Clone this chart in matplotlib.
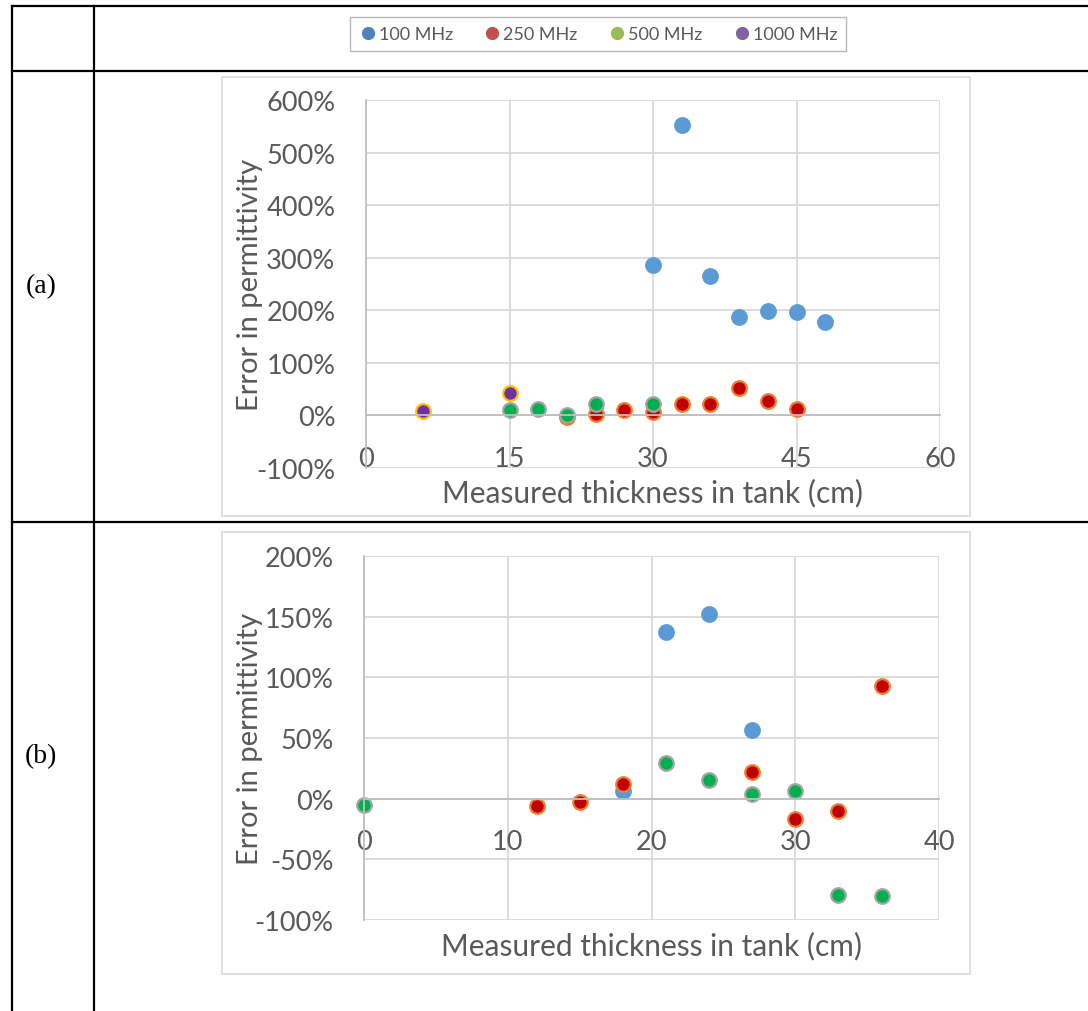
import matplotlib
matplotlib.use("Agg")
import matplotlib.pyplot as plt
from matplotlib.lines import Line2D
from matplotlib.patches import Rectangle
from matplotlib.ticker import FuncFormatter, MultipleLocator

plt.rcParams['font.family'] = ['Lato', 'DejaVu Sans']
plt.rcParams['axes.unicode_minus'] = False

W, H = 1088, 1012

series_names = ["100 MHz", "250 MHz", "500 MHz", "1000 MHz"]
legend_colors = ["#4F81BD", "#C0504D", "#9BBB59", "#8064A2"]
face_colors = ["#5B9BD5", "#C00000", "#00B050", "#7030A0"]
edge_colors = ["#5B9BD5", "#ED7D31", "#A5A5A5", "#FFC000"]

# panel (a): thickness (cm), error (%)
a_x = {
    "100 MHz": [30, 33, 36, 39, 42, 45, 48],
    "250 MHz": [21, 24, 27, 30, 33, 36, 39, 42, 45],
    "500 MHz": [15, 18, 21, 24, 30],
    "1000 MHz": [6, 15],
}
a_y = {
    "100 MHz": [287, 553, 265, 188, 198, 196, 177],
    "250 MHz": [-3, 2, 10, 6, 22, 22, 53, 28, 12],
    "500 MHz": [10, 13, 1, 21, 21],
    "1000 MHz": [8, 42],
}

# panel (b)
b_x = {
    "100 MHz": [18, 21, 24, 27],
    "250 MHz": [12, 15, 18, 27, 30, 33, 36],
    "500 MHz": [0, 21, 24, 27, 30, 33, 36],
    "1000 MHz": [],
}
b_y = {
    "100 MHz": [6, 137, 152, 57],
    "250 MHz": [-6, -2.5, 12, 22, -17, -10.5, 93],
    "500 MHz": [-5.5, 29, 15, 4, 6, -79, -80],
    "1000 MHz": [],
}

fig = plt.figure(figsize=(W / 100, H / 100), dpi=100)


def fx(px):
    return px / W


def fy(py):
    return 1 - py / H


def add_axes_px(x0, y0, x1, y1):
    return fig.add_axes([fx(x0), fy(y1), fx(x1) - fx(x0), fy(y0) - fy(y1)])


# table lines
for yy in [7, 72, 523]:
    fig.add_artist(Line2D([fx(12), 1], [fy(yy), fy(yy)], color="black", lw=1.6))
for xx in [12, 94]:
    fig.add_artist(Line2D([fx(xx), fx(xx)], [fy(7), 0], color="black", lw=1.6))

fig.text(fx(41), fy(287), "(a)", family="Liberation Serif", fontsize=20,
         ha="center", va="center")
fig.text(fx(41), fy(757), "(b)", family="Liberation Serif", fontsize=20,
         ha="center", va="center")

# chart area borders
for (x0, y0, x1, y1) in [(222, 78, 970, 517), (222, 533, 970, 975)]:
    fig.add_artist(Rectangle((fx(x0), fy(y1)), fx(x1) - fx(x0), fy(y0) - fy(y1),
                             transform=fig.transFigure, fill=False,
                             edgecolor="#D9D9D9", lw=1.2))

txt_col = "#595959"
pct = FuncFormatter(lambda v, p: f"{v:.0f}%")


def style(ax, xmax, xstep, ymin, ymax, ystep, xs, ys):
    ax.set_xlim(0, xmax)
    ax.set_ylim(ymin, ymax)
    ax.xaxis.set_major_locator(MultipleLocator(xstep))
    ax.yaxis.set_major_locator(MultipleLocator(ystep))
    ax.yaxis.set_major_formatter(pct)
    ax.grid(True, color="#D9D9D9", lw=1.3)
    ax.set_axisbelow(True)
    for s in ["top", "right"]:
        ax.spines[s].set_visible(False)
    ax.spines["bottom"].set_position(("data", 0))
    ax.spines["bottom"].set_color("#BFBFBF")
    ax.spines["left"].set_color("#BFBFBF")
    ax.spines["bottom"].set_linewidth(1.3)
    ax.spines["left"].set_linewidth(1.3)
    ax.tick_params(length=0, labelsize=19.5, labelcolor=txt_col)
    ax.tick_params(axis="x", pad=22)
    ax.tick_params(axis="y", pad=22)
    for name, fc, ec in zip(series_names, face_colors, edge_colors):
        ax.plot(xs[name], ys[name], ls="none", marker="o", ms=10.5,
                mfc=fc, mec=ec, mew=1.6, clip_on=False)
    ax.set_xlabel("Measured thickness in tank (cm)", fontsize=21.5, color=txt_col)
    ax.set_ylabel("Error in permittivity", fontsize=21, color=txt_col)
    ax.xaxis.label.set_va("center")
    ax.yaxis.label.set_va("center")
    return ax


axa = add_axes_px(366, 101, 940, 469)
style(axa, 60, 15, -100, 600, 100, a_x, a_y)
axa.xaxis.set_label_coords(0.5, -24 / 368)
axa.yaxis.set_label_coords((250 - 366) / 574, 0.5)

axb = add_axes_px(364, 557, 939, 921)
style(axb, 40, 10, -100, 200, 50, b_x, b_y)
axb.xaxis.set_label_coords(0.5, -25 / 364)
axb.yaxis.set_label_coords((250 - 364) / 575, 0.5)

handles = [Line2D([], [], ls="none", marker="o", ms=8.5, mfc=c, mec=c)
           for c in legend_colors]
leg = fig.legend(handles, series_names, loc="center", ncol=4,
                 bbox_to_anchor=(fx(598), fy(35)), frameon=True, fancybox=False,
                 fontsize=13, handletextpad=0.1, columnspacing=1.7,
                 handlelength=1.0, borderpad=0.5, labelcolor=txt_col)
leg.get_frame().set_edgecolor("#A6A6A6")
leg.get_frame().set_linewidth(1.0)

fig.savefig("out.png", dpi=100)
